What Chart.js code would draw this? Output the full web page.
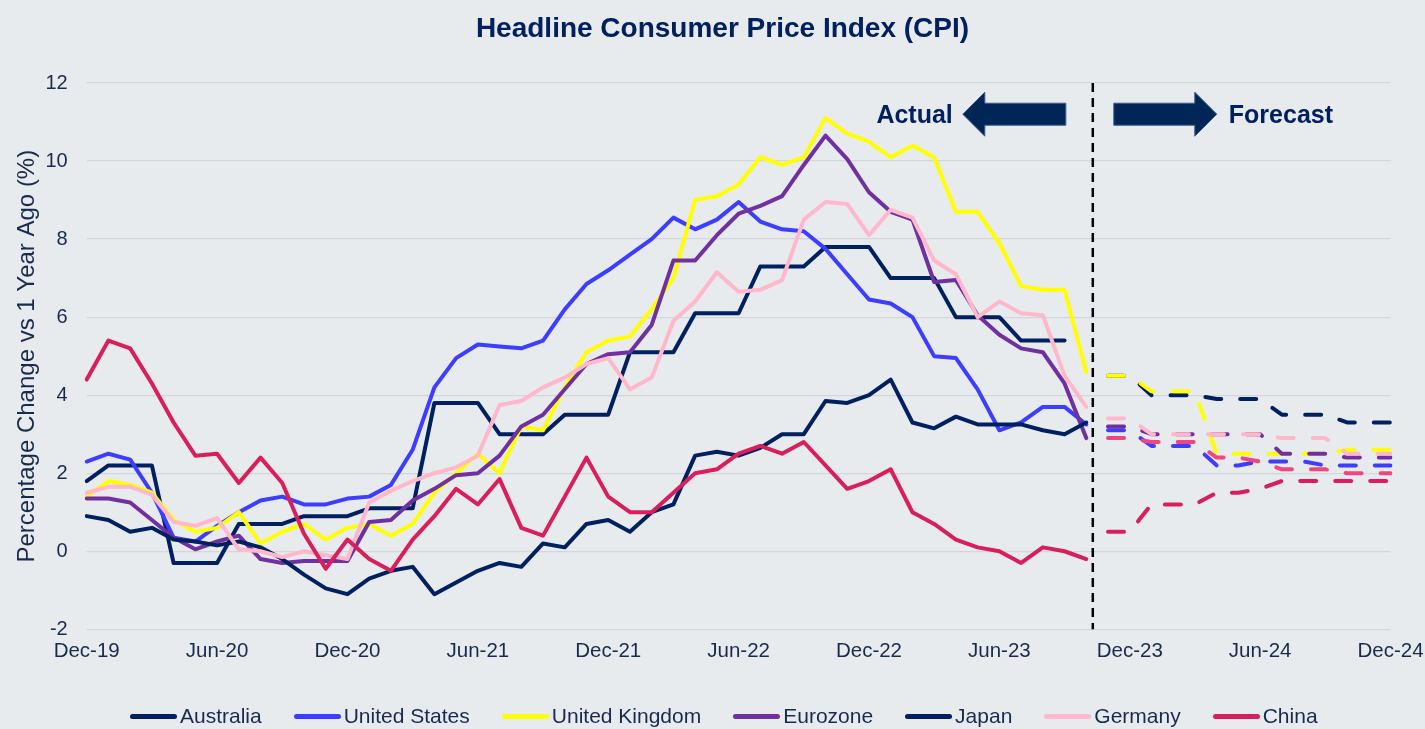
<!DOCTYPE html>
<html>
<head>
<meta charset="utf-8">
<title>Headline Consumer Price Index (CPI)</title>
<script src="https://cdn.jsdelivr.net/npm/chart.js@4.4.1/dist/chart.umd.min.js"></script>
<style>
  html, body { margin: 0; padding: 0; background: #e8ebee; }
  #wrap { width: 1425px; height: 729px; position: relative; }
  #legend {
    position: absolute; left: 130px; top: 704px; height: 24px;
    display: flex; align-items: center;
    font: 21px "Liberation Sans", Arial, sans-serif; color: #172b4d;
  }
  #legend .item { display: flex; align-items: center; margin-right: 32px; }
  #legend .swatch { width: 47px; height: 5px; border-radius: 3px; margin-right: 3px; }
</style>
</head>
<body>
<div id="wrap">
  <canvas id="cpi"></canvas>
  <div id="legend"></div>
</div>
<script>
const months = [
  'Dec-19',
  'Jan-20','Feb-20','Mar-20','Apr-20','May-20','Jun-20','Jul-20','Aug-20','Sep-20','Oct-20','Nov-20','Dec-20',
  'Jan-21','Feb-21','Mar-21','Apr-21','May-21','Jun-21','Jul-21','Aug-21','Sep-21','Oct-21','Nov-21','Dec-21',
  'Jan-22','Feb-22','Mar-22','Apr-22','May-22','Jun-22','Jul-22','Aug-22','Sep-22','Oct-22','Nov-22','Dec-22',
  'Jan-23','Feb-23','Mar-23','Apr-23','May-23','Jun-23','Jul-23','Aug-23','Sep-23','Oct-23','Nov-23','Dec-23',
  'Jan-24','Feb-24','Mar-24','Apr-24','May-24','Jun-24','Jul-24','Aug-24','Sep-24','Oct-24','Nov-24','Dec-24'
];
const tickLabels = ['Dec-19','Jun-20','Dec-20','Jun-21','Dec-21','Jun-22','Dec-22','Jun-23','Dec-23','Jun-24','Dec-24'];
const yTicks = [-2, 0, 2, 4, 6, 8, 10, 12];

// actual, from Dec-19
const australia = [1.8,2.2,2.2,2.2,-0.3,-0.3,-0.3,0.7,0.7,0.7,0.9,0.9,0.9,1.1,1.1,1.1,3.8,3.8,3.8,3.0,3.0,3.0,3.5,3.5,3.5,
  5.1,5.1,5.1,6.1,6.1,6.1,7.3,7.3,7.3,7.8,7.8,7.8,7.0,7.0,7.0,6.0,6.0,6.0,5.4,5.4,5.4];
const unitedStates = [2.3,2.5,2.35,1.5,0.35,0.25,0.65,1.0,1.3,1.4,1.2,1.2,1.35,1.4,1.7,2.6,4.2,4.95,5.3,5.25,5.2,5.4,6.2,6.85,
  7.2,7.6,8.0,8.55,8.25,8.5,8.95,8.45,8.25,8.2,7.75,7.1,6.45,6.35,6.0,5.0,4.95,4.15,3.1,3.3,3.7,3.7,3.25];
const unitedKingdom = [1.4,1.8,1.7,1.5,0.8,0.5,0.6,1.0,0.2,0.5,0.7,0.3,0.6,0.7,0.4,0.7,1.5,2.0,2.5,2.0,3.2,3.1,4.2,5.1,
  5.4,5.5,6.2,7.0,9.0,9.1,9.4,10.1,9.9,10.1,11.1,10.7,10.5,10.1,10.4,10.1,8.7,8.7,7.9,6.8,6.7,6.7,4.6];
const eurozone = [1.35,1.35,1.25,0.8,0.35,0.05,0.25,0.4,-0.2,-0.3,-0.25,-0.25,-0.25,0.75,0.8,1.3,1.6,1.95,2.0,2.45,3.2,3.5,4.15,4.8,
  5.05,5.1,5.8,7.45,7.45,8.1,8.65,8.85,9.1,9.9,10.65,10.05,9.2,8.7,8.5,6.9,6.95,6.05,5.55,5.2,5.1,4.3,2.9];
const japan = [0.9,0.8,0.5,0.6,0.3,0.25,0.15,0.25,0.1,-0.2,-0.6,-0.95,-1.1,-0.7,-0.5,-0.4,-1.1,-0.8,-0.5,-0.3,-0.4,0.2,0.1,0.7,
  0.8,0.5,1.0,1.2,2.45,2.55,2.45,2.65,3.0,3.0,3.85,3.8,4.0,4.4,3.3,3.15,3.45,3.25,3.25,3.25,3.1,3.0,3.3];
const germany = [1.5,1.65,1.65,1.45,0.75,0.65,0.85,0.05,0.0,-0.15,0.0,-0.1,-0.2,1.25,1.55,1.8,2.0,2.15,2.45,3.75,3.85,4.2,4.45,4.8,
  4.95,4.15,4.45,5.9,6.4,7.15,6.65,6.7,6.95,8.5,8.95,8.9,8.1,8.75,8.55,7.45,7.1,6.0,6.4,6.1,6.05,4.5,3.7];
const china = [4.4,5.4,5.2,4.3,3.3,2.45,2.5,1.75,2.4,1.75,0.45,-0.45,0.3,-0.2,-0.5,0.3,0.9,1.6,1.2,1.85,0.6,0.4,1.4,2.4,
  1.4,1.0,1.0,1.5,2.0,2.1,2.5,2.7,2.5,2.8,2.2,1.6,1.8,2.1,1.0,0.7,0.3,0.1,0.0,-0.3,0.1,0.0,-0.2];

// forecast, Nov-23 to Dec-24
const forecastStart = 47;
const australiaFc = [4.5,4.5,4.0,4.0,4.0,3.9,3.9,3.9,3.5,3.5,3.5,3.3,3.3,3.3];
const unitedStatesFc = [3.1,3.1,2.7,2.7,2.7,2.2,2.2,2.3,2.3,2.3,2.2,2.2,2.2,2.2];
const unitedKingdomFc = [4.5,4.5,4.1,4.1,4.1,2.5,2.5,2.5,2.5,2.5,2.5,2.6,2.6,2.6];
const eurozoneFc = [3.2,3.2,3.0,3.0,3.0,3.0,3.0,3.0,2.5,2.5,2.5,2.4,2.4,2.4];
const japanFc = [2.9,2.9,2.8,2.8,2.8,2.4,2.4,2.3,2.1,2.1,2.1,2.0,2.0,2.0];
const germanyFc = [3.4,3.4,3.0,3.0,3.0,3.0,3.0,3.0,2.9,2.9,2.9,2.5,2.5,2.5];
const chinaFc = [0.5,0.5,1.2,1.2,1.2,1.5,1.5,1.6,1.8,1.8,1.8,1.8,1.8,1.8];

const series = [
  { name: 'Australia', actual: australia, forecast: australiaFc, color: '#002060' },
  { name: 'United States', actual: unitedStates, forecast: unitedStatesFc, color: '#3d3dff' },
  { name: 'United Kingdom', actual: unitedKingdom, forecast: unitedKingdomFc, color: '#ffff00' },
  { name: 'Eurozone', actual: eurozone, forecast: eurozoneFc, color: '#7030a0' },
  { name: 'Japan', actual: japan, forecast: japanFc, color: '#002060', fcColor: '#ef4580' },
  { name: 'Germany', actual: germany, forecast: germanyFc, color: '#ffb7cb' },
  { name: 'China', actual: china, forecast: chinaFc, color: '#d91e5b' }
];

const pad = (vals, start) => months.map((m, i) => (i >= start && i - start < vals.length) ? vals[i - start] : null);

const datasets = [];
series.forEach((s, k) => {
  datasets.push({
    label: s.name, data: pad(s.actual, 0),
    borderColor: s.color, backgroundColor: s.color,
    borderWidth: 4, pointRadius: 0, tension: 0,
    borderJoinStyle: 'round', borderCapStyle: 'round',
    order: 100 - k
  });
});
series.forEach((s, k) => {
  datasets.push({
    label: s.name + ' (forecast)', data: pad(s.forecast, forecastStart),
    borderColor: s.fcColor || s.color, backgroundColor: s.fcColor || s.color,
    borderWidth: 4, borderDash: [16, 19], borderCapStyle: 'round', borderJoinStyle: 'round',
    pointRadius: 0, tension: 0,
    order: 50 - k
  });
});

// dashed divider between actual and forecast, plus the two arrows
const dividerAt = 46.3;
function arrow(ctx, tail, tip, cy) {
  const dir = Math.sign(tip - tail);
  const headBase = tip - dir * 22;
  ctx.beginPath();
  ctx.moveTo(tail, cy - 11);
  ctx.lineTo(headBase, cy - 11);
  ctx.lineTo(headBase, cy - 22);
  ctx.lineTo(tip, cy);
  ctx.lineTo(headBase, cy + 22);
  ctx.lineTo(headBase, cy + 11);
  ctx.lineTo(tail, cy + 11);
  ctx.closePath();
  ctx.fill();
  ctx.stroke();
}
const markers = {
  id: 'markers',
  afterDatasetsDraw(chart) {
    const { ctx, chartArea, scales: { x, y } } = chart;
    const dx = x.getPixelForValue(dividerAt);
    const ay = y.getPixelForValue(11.2);
    ctx.save();
    ctx.strokeStyle = '#000000';
    ctx.lineWidth = 2.5;
    ctx.setLineDash([9, 6]);
    ctx.beginPath();
    ctx.moveTo(dx, chartArea.top);
    ctx.lineTo(dx, chartArea.bottom);
    ctx.stroke();
    ctx.setLineDash([]);
    ctx.fillStyle = '#002657';
    ctx.strokeStyle = '#3a5a86';
    ctx.lineWidth = 1;
    arrow(ctx, dx - 27, dx - 130, ay);
    arrow(ctx, dx + 21, dx + 124, ay);
    ctx.fillStyle = '#002060';
    ctx.font = 'bold 25px "Liberation Sans", Arial, sans-serif';
    ctx.textBaseline = 'middle';
    ctx.textAlign = 'right';
    ctx.fillText('Actual', dx - 140, ay + 2);
    ctx.textAlign = 'left';
    ctx.fillText('Forecast', dx + 136, ay + 2);
    ctx.restore();
  }
};

const navy = '#172b4d';
const font = '"Liberation Sans", Arial, sans-serif';

new Chart(document.getElementById('cpi'), {
  type: 'line',
  data: { labels: months, datasets },
  plugins: [markers],
  options: {
    responsive: true,
    maintainAspectRatio: false,
    animation: false,
    // left padding nudges the centred title to where it sits in the original
    layout: { padding: { left: 20, right: 0, top: 0, bottom: 59.7 } },
    plugins: {
      legend: { display: false },
      tooltip: { enabled: false },
      title: {
        display: true,
        text: 'Headline Consumer Price Index (CPI)',
        color: '#002060',
        font: { family: font, size: 28, weight: 'bold' },
        padding: { top: 12, bottom: 37.4 }
      }
    },
    scales: {
      x: {
        offset: false,
        grid: { display: false, drawTicks: false },
        border: { display: false },
        afterFit: s => { s.height = 40; s.paddingRight = 34.5; },
        ticks: {
          autoSkip: false, maxRotation: 0, minRotation: 0, padding: 10,
          color: navy, font: { family: font, size: 20.5 },
          callback: (v, i) => tickLabels.includes(months[i]) ? months[i] : ''
        }
      },
      y: {
        min: -2, max: 12,
        afterFit: s => { s.width = 66.7; },
        afterBuildTicks: s => { s.ticks = yTicks.map(v => ({ value: v })); },
        grid: { color: '#d3d6da', lineWidth: 1.2, drawTicks: false },
        border: { display: false },
        ticks: { padding: 19, color: navy, font: { family: font, size: 20 } },
        title: {
          display: true,
          text: 'Percentage Change vs 1 Year Ago (%)',
          color: navy,
          font: { family: font, size: 24 },
          padding: { top: -7.5 }
        }
      }
    }
  }
});

// legend as real text below the plot
const legendBox = document.getElementById('legend');
series.forEach(s => {
  const item = document.createElement('div');
  item.className = 'item';
  const sw = document.createElement('span');
  sw.className = 'swatch';
  sw.style.background = s.color;
  const tx = document.createElement('span');
  tx.textContent = s.name;
  item.appendChild(sw);
  item.appendChild(tx);
  legendBox.appendChild(item);
});
</script>
</body>
</html>
